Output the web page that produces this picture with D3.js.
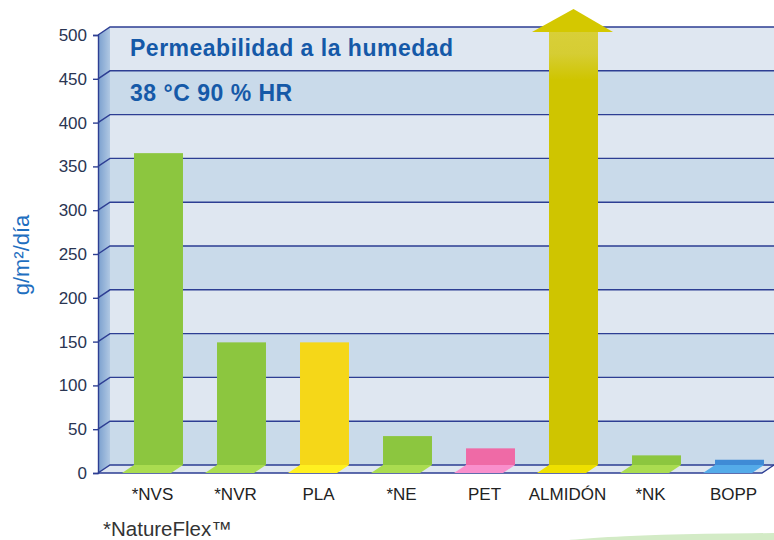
<!DOCTYPE html>
<html>
<head>
<meta charset="utf-8">
<script src="https://cdn.jsdelivr.net/npm/d3@7"></script>
<style>
  html, body { margin: 0; padding: 0; background: #ffffff; }
  svg { display: block; }
  text { font-family: "Helvetica Neue", "Liberation Sans", Arial, sans-serif; }
</style>
</head>
<body>
<svg id="chart" width="774" height="540"></svg>
<script>
// ---- data ----
const categories = ["*NVS", "*NVR", "PLA", "*NE", "PET", "ALMIDÓN", "*NK", "BOPP"];
const values = [356, 140, 140, 33, 19, 600, 11, 6]; // ALMIDÓN is off the scale (> 500)
const barColors = ["#8cc63f", "#8cc63f", "#f5d718", "#8cc63f", "#ef6aa6", "#cfc500", "#8cc63f", "#3f8bd6"];
const floorColors = ["#aadc50", "#aadc50", "#fff020", "#aadc50", "#f98fcc", "#eee000", "#aadc50", "#54abe9"];
const tickValues = [0, 50, 100, 150, 200, 250, 300, 350, 400, 450, 500];
const titleLines = ["Permeabilidad a la humedad", "38 °C 90 % HR"];
const yTitle = "g/m²/día";
const footnote = "*NatureFlex™";

// ---- layout ----
const svg = d3.select("#chart");
const axisX = 98;           // front axis
const dx = 12, dy = 8;       // depth offset
const wallRight = 774;
const yFront = d3.scaleLinear().domain([0, 500]).range([473, 35]);
const yBack = v => yFront(v) - dy;
const x = d3.scaleBand().domain(categories).range([117, 781]).paddingInner(0.41).paddingOuter(0.205);

const lightBand = "#dfe7f1", darkBand = "#c9daea", gridCol = "#2d3e93";

// defs
const defs = svg.append("defs");
const sideGrad = defs.append("linearGradient").attr("id", "sideGrad").attr("x1", "0").attr("x2", "1").attr("y1", "0").attr("y2", "0");
sideGrad.append("stop").attr("offset", "0%").attr("stop-color", "#7a9fce");
sideGrad.append("stop").attr("offset", "100%").attr("stop-color", "#b0c8e3");
const arrowGrad = defs.append("linearGradient").attr("id", "arrowGrad").attr("x1", "0").attr("x2", "0").attr("y1", "0").attr("y2", "1");
arrowGrad.append("stop").attr("offset", "0%").attr("stop-color", "#d8cf38");
arrowGrad.append("stop").attr("offset", "5%").attr("stop-color", "#d6cd33");
arrowGrad.append("stop").attr("offset", "11%").attr("stop-color", "#cfc500");
arrowGrad.append("stop").attr("offset", "100%").attr("stop-color", "#cfc500");

// decorative green ellipse (bottom right)
svg.append("ellipse").attr("cx", 800).attr("cy", 544).attr("rx", 248).attr("ry", 11).attr("fill", "#d3ebc6");

// back wall bands
const bands = d3.range(tickValues.length - 1).map(i => [tickValues[i], tickValues[i + 1]]);
svg.append("g").selectAll("rect").data(bands).join("rect")
  .attr("x", axisX + dx).attr("width", wallRight - axisX - dx)
  .attr("y", d => yBack(d[1])).attr("height", d => yBack(d[0]) - yBack(d[1]))
  .attr("fill", (d, i) => (i % 2 === 0) ? darkBand : lightBand);

// side wall
svg.append("path")
  .attr("d", `M${axisX},${yFront(500)} L${axisX + dx},${yBack(500)} L${axisX + dx},${yBack(0)} L${axisX},${yFront(0)} Z`)
  .attr("fill", "url(#sideGrad)");

// floor
svg.append("path")
  .attr("d", `M${axisX},${yFront(0)} L${axisX + dx},${yBack(0)} L${wallRight},${yBack(0)} L${wallRight - dx},${yFront(0)} Z`)
  .attr("fill", lightBand);

// gridlines (back wall + diagonal on side wall)
const grid = svg.append("g").attr("fill", "none").attr("stroke", gridCol).attr("stroke-width", 1.4);
grid.selectAll("path").data(tickValues).join("path")
  .attr("d", d => `M${axisX},${yFront(d)} L${axisX + dx},${yBack(d)} L${wallRight},${yBack(d)}`);
// floor outline
grid.append("path").attr("d", `M${axisX},${yFront(0)} L${wallRight - dx},${yFront(0)} L${wallRight},${yBack(0)}`);

// bars
const maxV = yFront.domain()[1];
const data = categories.map((c, i) => ({ c, v: values[i], bar: barColors[i], floor: floorColors[i] }));
const gBars = svg.append("g");
data.forEach(d => {
  const x0 = x(d.c), x1 = x0 + x.bandwidth();
  // floor footprint
  gBars.append("path")
    .attr("d", `M${x0 - dx},${yFront(0)} L${x0},${yBack(0)} L${x1},${yBack(0)} L${x1 - dx},${yFront(0)} Z`)
    .attr("fill", d.floor);
  if (d.v > maxV) {
    const baseY = yBack(maxV) + 5;
    const tipY = baseY - 23;
    const cx = (x0 + x1) / 2;
    gBars.append("rect").attr("x", x0).attr("width", x1 - x0)
      .attr("y", baseY).attr("height", yBack(0) - baseY).attr("fill", "url(#arrowGrad)");
    gBars.append("path")
      .attr("d", `M${x0 - 17},${baseY} L${cx},${tipY} L${x1 + 15},${baseY} Z`)
      .attr("fill", "#d4c800");
  } else {
    gBars.append("rect").attr("x", x0).attr("width", x1 - x0)
      .attr("y", yBack(d.v)).attr("height", yBack(0) - yBack(d.v)).attr("fill", d.bar);
  }
});

// y axis
const yAxis = d3.axisLeft(yFront).tickValues(tickValues).tickSize(5).tickPadding(6).tickFormat(d3.format("d"));
const gAxis = svg.append("g").attr("transform", `translate(${axisX},0)`).call(yAxis);
gAxis.select(".domain").attr("stroke", gridCol).attr("stroke-width", 1.4);
gAxis.selectAll(".tick line").attr("stroke", gridCol).attr("stroke-width", 1.4);
gAxis.selectAll(".tick text").attr("fill", "#2a3552").attr("font-size", 17)
  .style("font-family", "'Helvetica Neue', 'Liberation Sans', Arial, sans-serif");

// x category labels
svg.append("g").selectAll("text").data(categories).join("text")
  .attr("x", d => x(d) + x.bandwidth() / 2 - 6).attr("y", 500)
  .attr("text-anchor", "middle").attr("font-size", 17).attr("fill", "#222")
  .text(d => d);

// y title
svg.append("text")
  .attr("transform", "translate(29,255) rotate(-90)")
  .attr("text-anchor", "middle").attr("font-size", 22).attr("fill", "#1f6fc0")
  .text(yTitle);

// chart title inside the plot
svg.append("text").attr("x", 130).attr("y", 56).attr("font-size", 23).attr("font-weight", "bold")
  .attr("fill", "#1559a8").attr("letter-spacing", 0.5).text(titleLines[0]);
svg.append("text").attr("x", 130).attr("y", 101).attr("font-size", 23).attr("font-weight", "bold")
  .attr("fill", "#1559a8").attr("letter-spacing", 0.5).text(titleLines[1]);

// footnote
svg.append("text").attr("x", 103).attr("y", 536).attr("font-size", 20.5).attr("fill", "#333")
  .text(footnote);
</script>
</body>
</html>
